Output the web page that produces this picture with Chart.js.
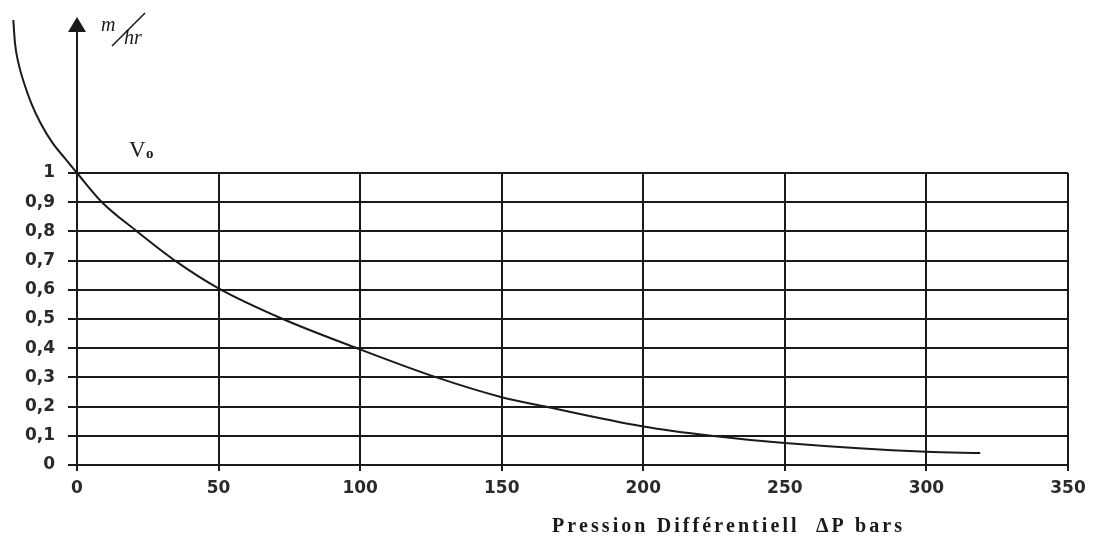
<!DOCTYPE html>
<html>
<head>
<meta charset="utf-8">
<script src="https://cdn.jsdelivr.net/npm/chart.js@4"></script>
<style>
  html, body { margin: 0; padding: 0; background: #fff; }
  #wrap { width: 1097px; height: 536px; position: relative; }
</style>
</head>
<body>
<div id="wrap"><canvas id="chart"></canvas></div>
<script>
// curve: x = pressure (bars), y = relative flow
var pressure = [-22.5, -21.9, -20.7, -18.7, -16.2, -12.9, -8.65, -4.24, 0, 8.8, 21.2, 34.6, 50, 72.7, 98.9, 127, 149.7, 164.5, 200, 224, 250, 300, 319];
var flow = [1.524, 1.445, 1.377, 1.308, 1.24, 1.171, 1.103, 1.05, 1.0, 0.9, 0.8, 0.7, 0.605, 0.5, 0.4, 0.3, 0.233, 0.202, 0.132, 0.1, 0.075, 0.045, 0.041];

var xTicks = [0, 50, 100, 150, 200, 250, 300, 350];
var yTicks = [0, 0.1, 0.2, 0.3, 0.4, 0.5, 0.6, 0.7, 0.8, 0.9, 1];
var xTitle = 'Pression Différentiell  ΔP bars';

var INK = '#1a1a1a';

function fmtY(v) {
  if (v === 0) return '0';
  if (v === 1) return '1';
  return v.toFixed(1).replace('.', ',');
}

// y axis arrow, unit and V0 label, x axis title
var decorations = {
  id: 'decorations',
  afterDraw: function (chart) {
    var ctx = chart.ctx;
    var area = chart.chartArea;
    var x0 = chart.scales.x.getPixelForValue(0);
    ctx.save();
    ctx.strokeStyle = INK;
    ctx.fillStyle = INK;
    ctx.lineWidth = 2;
    ctx.beginPath();
    ctx.moveTo(x0, area.top);
    ctx.lineTo(x0, 30);
    ctx.stroke();
    ctx.beginPath();
    ctx.moveTo(x0, 17);
    ctx.lineTo(x0 - 9, 32);
    ctx.lineTo(x0 + 9, 32);
    ctx.closePath();
    ctx.fill();

    // unit m/hr
    ctx.font = 'italic 20px "Liberation Serif"';
    ctx.textBaseline = 'alphabetic';
    ctx.fillText('m', x0 + 24, 31);
    ctx.fillText('hr', x0 + 47, 44);
    ctx.lineWidth = 1.6;
    ctx.beginPath();
    ctx.moveTo(x0 + 35, 46);
    ctx.lineTo(x0 + 68, 13);
    ctx.stroke();

    // V0
    ctx.font = '23px "Liberation Serif"';
    ctx.fillText('V', x0 + 52, 157);
    ctx.font = 'bold 15px "Liberation Serif"';
    ctx.fillText('o', x0 + 69, 158);

    // x axis title, spaced out like the original
    ctx.font = 'bold 20px "Liberation Serif"';
    var w = ctx.measureText(xTitle).width;
    ctx.letterSpacing = ((353 - w) / xTitle.length).toFixed(2) + 'px';
    ctx.fillText(xTitle, 552, 532);
    ctx.restore();
  }
};

new Chart(document.getElementById('chart'), {
  type: 'line',
  data: {
    datasets: [{
      data: pressure.map(function (p, i) { return { x: p, y: flow[i] }; }),
      borderColor: INK,
      borderWidth: 2,
      pointRadius: 0,
      fill: false,
      cubicInterpolationMode: 'monotone',
      clip: false
    }]
  },
  options: {
    responsive: true,
    maintainAspectRatio: false,
    animation: false,
    layout: { padding: { top: 173, right: 29, left: 0, bottom: 0 } },
    plugins: {
      legend: { display: false },
      tooltip: { enabled: false }
    },
    scales: {
      x: {
        type: 'linear',
        // bounds set here (not as min/max) so the line keeps its points left of 0
        afterDataLimits: function (scale) { scale.min = 0; scale.max = 350; },
        afterBuildTicks: function (scale) {
          scale.ticks = xTicks.map(function (v) { return { value: v }; });
        },
        afterFit: function (scale) { scale.height = 71; },
        grid: { color: INK, lineWidth: 2, tickLength: 6 },
        border: { color: INK, width: 2 },
        ticks: {
          color: '#2a2a2a',
          padding: 7,
          maxRotation: 0,
          font: { family: 'DejaVu Sans', size: 17, weight: 'bold' }
        }
      },
      y: {
        afterDataLimits: function (scale) { scale.min = 0; scale.max = 1; },
        afterBuildTicks: function (scale) {
          scale.ticks = yTicks.map(function (v) { return { value: v }; });
        },
        afterFit: function (scale) { scale.width = 77; },
        grid: { color: INK, lineWidth: 2, tickLength: 9 },
        border: { color: INK, width: 2 },
        ticks: {
          color: '#2a2a2a',
          padding: 13,
          callback: function (v) { return fmtY(v); },
          font: { family: 'DejaVu Sans', size: 17, weight: 'bold' }
        }
      }
    }
  },
  plugins: [decorations]
});
</script>
</body>
</html>
